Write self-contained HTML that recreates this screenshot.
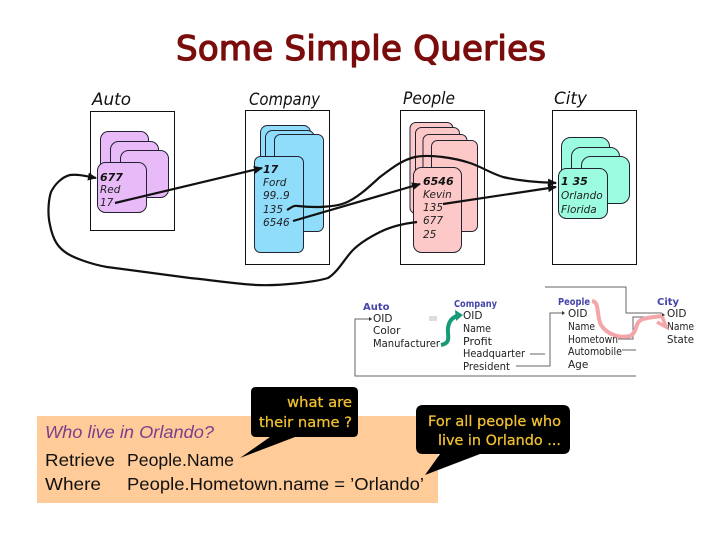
<!DOCTYPE html>
<html><head><meta charset="utf-8"><style>
html,body{margin:0;padding:0;background:#fff}
svg{display:block}
text{font-family:"DejaVu Sans",sans-serif}
.h{font-style:italic;font-size:16.5px;fill:#111}
.c{font-style:italic;font-size:10.5px;fill:#222}
.b{font-weight:bold;font-size:11px;fill:#111}
.s{font-size:10.5px;fill:#222}
.t{font-size:10px;font-weight:bold;fill:#44a}
.y{font-size:14px;fill:#f0c030;stroke:#f0c030;stroke-width:.25}
.q{font-family:"Liberation Sans",sans-serif;font-size:17.5px;fill:#111}
.box{fill:#fff;stroke:#111;stroke-width:1}
.cd{stroke:#223;stroke-width:1}
.l{fill:none;stroke:#111;stroke-width:2.2}
.g{fill:none;stroke:#666;stroke-width:1}
</style></head><body>
<svg width="720" height="540" viewBox="0 0 720 540" xmlns="http://www.w3.org/2000/svg">
<defs>
<marker id="a" markerWidth="9" markerHeight="8" refX="8" refY="4" orient="auto" markerUnits="userSpaceOnUse"><path d="M0 0L9 4L0 8Z" fill="#111"/></marker>
<filter id="blur" x="-5%" y="-5%" width="110%" height="110%"><feGaussianBlur stdDeviation="0.35"/></filter>
</defs>
<text x="176" y="60" font-size="34" style="fill:#7a0c0c;stroke:#7a0c0c;stroke-width:1.3;stroke-linejoin:round" textLength="370" lengthAdjust="spacing">Some Simple Queries</text>

<text class="h" x="92" y="105" textLength="39" lengthAdjust="spacingAndGlyphs">Auto</text>
<text class="h" x="249" y="105" textLength="71" lengthAdjust="spacingAndGlyphs">Company</text>
<text class="h" x="403" y="104" textLength="52" lengthAdjust="spacingAndGlyphs">People</text>
<text class="h" x="554" y="104" textLength="33" lengthAdjust="spacingAndGlyphs">City</text>

<rect class="box" x="90.5" y="111.5" width="84" height="119"/>
<rect class="box" x="245.5" y="110.5" width="84" height="154"/>
<rect class="box" x="400.5" y="110.5" width="84" height="154"/>
<rect class="box" x="552.5" y="110.5" width="84" height="154"/>

<g fill="#e8bbf8">
<rect class="cd" x="100.5" y="131.5" width="48" height="50" rx="8"/>
<rect class="cd" x="110.5" y="141.5" width="48" height="50" rx="8"/>
<rect class="cd" x="120.5" y="150.5" width="48" height="47" rx="8"/>
<rect class="cd" x="97.5" y="162.5" width="49" height="50" rx="8"/>
</g>
<g fill="#8fdcfb">
<rect class="cd" x="260.5" y="125.5" width="50" height="90" rx="7"/>
<rect class="cd" x="265.5" y="130.5" width="49" height="90" rx="7"/>
<rect class="cd" x="274.5" y="134.5" width="49" height="97" rx="6"/>
<rect class="cd" x="254.5" y="156.5" width="49" height="96" rx="6"/>
</g>
<g fill="#fdc8c8">
<rect class="cd" x="410" y="122.5" width="43" height="91" rx="6"/>
<rect class="cd" x="415.5" y="127.5" width="44" height="91" rx="6"/>
<rect class="cd" x="423" y="134.5" width="44" height="91" rx="6"/>
<rect class="cd" x="431.5" y="140.5" width="46" height="91" rx="6"/>
<rect class="cd" x="413.5" y="167.5" width="48" height="85" rx="8"/>
</g>
<g fill="#9cfce0">
<rect class="cd" x="561.5" y="137.5" width="48" height="50" rx="9"/>
<rect class="cd" x="571.5" y="147.5" width="48" height="48" rx="9"/>
<rect class="cd" x="581.5" y="156.5" width="48" height="47" rx="9"/>
<rect class="cd" x="558.5" y="168.5" width="49" height="50" rx="8"/>
</g>

<text class="b" x="100" y="181" font-style="italic">677</text>
<text class="c" x="100" y="193">Red</text>
<text class="c" x="100" y="206">17</text>
<text class="b" x="263" y="173" font-style="italic">17</text>
<text class="c" x="263" y="186">Ford</text>
<text class="c" x="263" y="199">99..9</text>
<text class="c" x="263" y="213">135</text>
<text class="c" x="263" y="226">6546</text>
<text class="b" x="423" y="185" font-style="italic">6546</text>
<text class="c" x="423" y="198">Kevin</text>
<text class="c" x="423" y="211">135</text>
<text class="c" x="423" y="224">677</text>
<text class="c" x="423" y="238">25</text>
<text class="b" x="561" y="185" font-style="italic">1 35</text>
<text class="c" x="561" y="199">Orlando</text>
<text class="c" x="561" y="213">Florida</text>

<path class="l" marker-end="url(#a)" d="M115 203L262 168"/>
<path class="l" marker-end="url(#a)" d="M287 210C291 208 293 205 298 206C315 208 335 207 345 203C358 198 372 184 380 177C392 168 402 160 415 157C430 154 455 158 470 163C482 167 490 173 503 177C520 181 535 182 556 183"/>
<path class="l" marker-end="url(#a)" d="M293 221L420 184"/>
<path class="l" marker-end="url(#a)" d="M443 204L556 187"/>
<path class="l" marker-end="url(#a)" d="M417 222C400 224 388 228 380 232C368 238 360 243 353 250C345 258 338 272 328 278C315 282 280 286 257 285C235 284 212 280 190 278L107 267C90 264 75 258 68 254C58 248 53 240 50 225C47 212 49 198 51 192C55 184 62 177 70 175C78 174 85 176 96 178"/>

<!-- schema -->
<g filter="url(#blur)">
<text class="t" x="363" y="310">Auto</text>
<text class="s" x="373" y="322">OID</text>
<text class="s" x="373" y="334">Color</text>
<text class="s" x="373" y="347" textLength="67" lengthAdjust="spacingAndGlyphs">Manufacturer</text>
<text class="t" x="454" y="307" textLength="43" lengthAdjust="spacingAndGlyphs">Company</text>
<text class="s" x="463" y="319">OID</text>
<text class="s" x="463" y="332" textLength="28" lengthAdjust="spacingAndGlyphs">Name</text>
<text class="s" x="463" y="345" textLength="29" lengthAdjust="spacingAndGlyphs">Profit</text>
<text class="s" x="463" y="357" textLength="62" lengthAdjust="spacingAndGlyphs">Headquarter</text>
<text class="s" x="463" y="370" textLength="47" lengthAdjust="spacingAndGlyphs">President</text>
<text class="t" x="558" y="305" textLength="32" lengthAdjust="spacingAndGlyphs">People</text>
<text class="s" x="568" y="317">OID</text>
<text class="s" x="568" y="330" textLength="27" lengthAdjust="spacingAndGlyphs">Name</text>
<text class="s" x="568" y="343" textLength="50" lengthAdjust="spacingAndGlyphs">Hometown</text>
<text class="s" x="568" y="355" textLength="54" lengthAdjust="spacingAndGlyphs">Automobile</text>
<text class="s" x="568" y="368">Age</text>
<text class="t" x="657" y="305">City</text>
<text class="s" x="667" y="317">OID</text>
<text class="s" x="667" y="330" textLength="27" lengthAdjust="spacingAndGlyphs">Name</text>
<text class="s" x="667" y="343" textLength="27" lengthAdjust="spacingAndGlyphs">State</text>

<path class="g" d="M636 376H355V319H372M516 366H550V313H562M530 354H545M545 287H626V313H662M618 339H633V317H662M622 350H636"/>
<path d="M372 319l-3 -2v4zM565 313l-3 -2v4zM665 315l-3 -2v4z" fill="#333"/>
<rect x="429" y="316" width="8" height="5" fill="#ddd"/>
<path d="M441 345C452 343 447 335 448 328C449 321 452 317 460 315" fill="none" stroke="#159a78" stroke-width="4"/>
<path d="M455 310L463 315L456 321Z" fill="#159a78"/>
<path d="M592 301C600 302 596 315 601 325C608 336 622 338 630 336C638 332 634 322 643 319C650 317 655 317 662 316" fill="none" stroke="#f4a5a8" stroke-width="4"/>
<path d="M662 316L666 327L657 322" fill="none" stroke="#f4a5a8" stroke-width="3.5"/>
</g>

<!-- query -->
<rect x="37" y="416" width="401" height="87" fill="#fecb99"/>
<path d="M259 387H353Q358 387 358 392V432Q358 437 353 437H295L240 458L270 437H256Q251 437 251 432V392Q251 387 256 387Z" fill="#000"/>
<path d="M423 405H563Q570 405 570 412V447Q570 454 563 454H480L425 475L440 454H423Q416 454 416 447V412Q416 405 423 405Z" fill="#000"/>
<text class="y" x="287" y="407" textLength="65" lengthAdjust="spacingAndGlyphs">what are</text>
<text class="y" x="259" y="427" textLength="93" lengthAdjust="spacingAndGlyphs">their name ?</text>
<text class="y" x="428" y="426" textLength="133" lengthAdjust="spacingAndGlyphs">For all people who</text>
<text class="y" x="438" y="445" textLength="123" lengthAdjust="spacingAndGlyphs">live in Orlando ...</text>

<text class="q" x="45" y="438" font-style="italic" style="fill:#7b3f8c" textLength="169" lengthAdjust="spacingAndGlyphs">Who live in Orlando?</text>
<text class="q" x="45" y="466" textLength="70" lengthAdjust="spacingAndGlyphs">Retrieve</text>
<text class="q" x="127" y="466" textLength="107" lengthAdjust="spacingAndGlyphs">People.Name</text>
<text class="q" x="45" y="490" textLength="56" lengthAdjust="spacingAndGlyphs">Where</text>
<text class="q" x="127" y="490" textLength="297" lengthAdjust="spacingAndGlyphs">People.Hometown.name = ’Orlando’</text>
</svg>
</body></html>
